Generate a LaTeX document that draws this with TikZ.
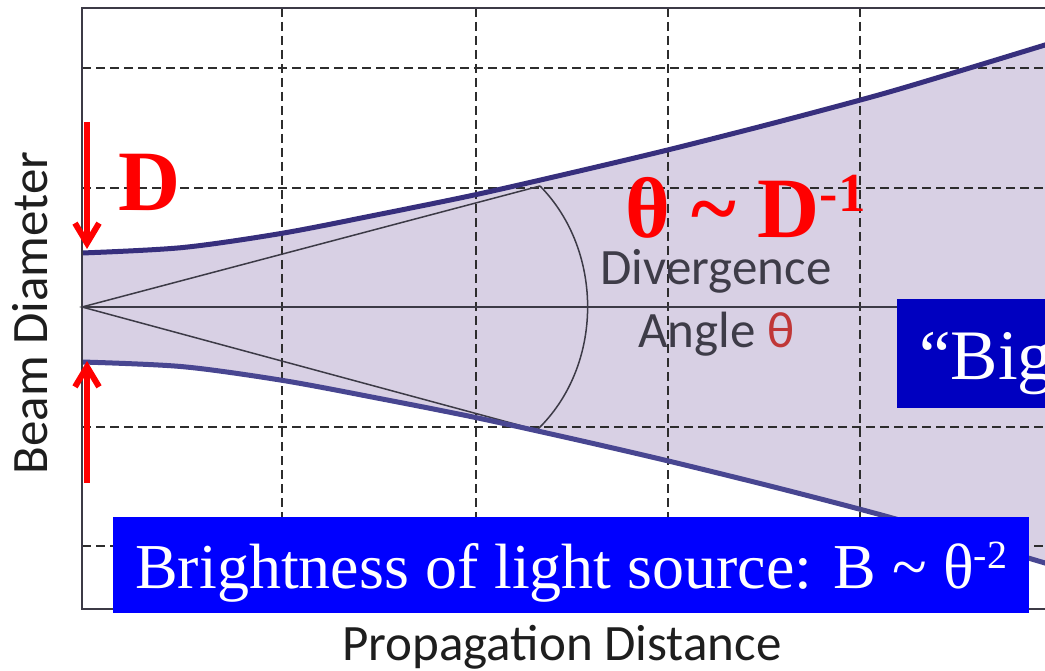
\documentclass[tikz,border=0pt]{standalone}
\usepackage{fontspec}
\setmainfont{Liberation Serif}
\newfontfamily\calfont{Carlito}
\usetikzlibrary{arrows.meta}
\definecolor{beamfill}{RGB}{216,208,228}
\definecolor{beamup}{RGB}{55,47,125}
\definecolor{beamlo}{RGB}{72,70,145}
\definecolor{gridcol}{RGB}{45,45,45}
\definecolor{thincol}{RGB}{60,58,70}
\definecolor{labgray}{RGB}{30,30,30}
\definecolor{divgray}{RGB}{62,60,72}
\definecolor{thetared}{RGB}{192,55,55}
\definecolor{pureblue}{RGB}{0,0,255}
\definecolor{darkblue}{RGB}{0,0,192}
\definecolor{pured}{RGB}{255,0,0}
\tikzset{
  gridline/.style={draw=gridcol, line width=1.4pt, dash pattern=on 9pt off 5pt},
  thinline/.style={draw=thincol, line width=1.5pt},
  frameline/.style={draw=thincol, line width=1.8pt},
  beamcurve/.style={line width=5pt},
  redarrow/.style={draw=pured, line width=6pt, -{Straight Barb[length=20pt,width=24pt]}},
  caltext/.style={font=\calfont\fontsize{51}{51}\selectfont, inner sep=0pt},
  redbig/.style={font=\bfseries\fontsize{86}{86}\selectfont, text=pured, inner sep=0pt},
}
\begin{document}
\begin{tikzpicture}[x=1pt,y=-1pt]
\useasboundingbox (0,0) rectangle (1045,671);
\clip (0,0) rectangle (1045,671);
\fill[white] (0,0) rectangle (1045,671);
% beam fill
\fill[beamfill] plot[smooth] coordinates {(82,253) (182,247.6) (282,233.3) (379,214.4) (476,194.6) (572,172.7) (668,149.9) (774,123) (880,94.6) (962,70.3) (1045,45) (1065,38.9)}
  -- plot[smooth] coordinates {(1065,568.9) (1045,563) (962,538.3) (880,514.6) (774,487) (668,460.9) (572,438.7) (476,417.6) (379,398.4) (282,380.3) (182,366.6) (82,362)} -- cycle;
% grid
\foreach \gx in {282,476,668,860} \draw[gridline] (\gx,8) -- (\gx,609);
\foreach \gy in {68,188,427,546} \draw[gridline] (82,\gy) -- (1050,\gy);
% axis through beam centre
\coordinate (O) at (82,307);
\coordinate (CE) at (1050,307);
\draw[thinline] (O) -- (CE);
% divergence lines and arc
\coordinate (AU) at (540,186);
\coordinate (AL) at (537,430);
\draw[thinline] (AU) -- (O) -- (AL);
\draw[thinline] (AU) .. controls (604,251) and (604,366) .. (AL);
% beam envelope
\draw[beamcurve, draw=beamup] plot[smooth] coordinates {(82,253) (182,247.6) (282,233.3) (379,214.4) (476,194.6) (572,172.7) (668,149.9) (774,123) (880,94.6) (962,70.3) (1045,45) (1065,38.9)};
\draw[beamcurve, draw=beamlo] plot[smooth] coordinates {(82,362) (182,366.6) (282,380.3) (379,398.4) (476,417.6) (572,438.7) (668,460.9) (774,487) (880,514.6) (962,538.3) (1045,563) (1065,568.9)};
% frame
\draw[frameline] (1050,8) -- (82,8) -- (82,609) -- (1050,609);
% axis labels
\node[caltext, text=labgray, rotate=90] (ylab) at (30,313) {Beam Diameter};
\node[caltext, text=labgray, anchor=base] (xlab) at (562,660) {Propagation Distance};
\node[caltext, text=divgray, anchor=base] (div) at (716,285) {Divergence};
\node[caltext, text=divgray, anchor=base west] (ang) at (638,347) {Angle \textcolor{thetared}{θ}};
% red annotations
\node[redbig, anchor=base west] (Dlab) at (118,211) {D};
\node[redbig, anchor=base west] (rel) at (625,238) {θ \textasciitilde{} D\raisebox{26pt}{\fontsize{55}{55}\selectfont -1}};
\coordinate (T1) at (87,122);
\coordinate (T2) at (87,249);
\coordinate (B1) at (87,483);
\coordinate (B2) at (87,361);
\draw[redarrow] (T1) -- (T2);
\draw[redarrow] (B1) -- (B2);
% blue boxes
\node[anchor=base west, fill=pureblue, text=white, font=\fontsize{64}{64}\selectfont,
      minimum width=916pt, text height=71pt, text depth=25pt, inner ysep=0pt, inner xsep=0pt] (bright) at (113,588)
      {Brightness of light source: B \textasciitilde{} θ\raisebox{20pt}{\fontsize{40}{40}\selectfont -2}};
\node[anchor=base west, fill=darkblue, text=white, font=\fontsize{71}{71}\selectfont,
      text width=220pt, align=left, text height=80pt, text depth=29pt, inner ysep=0pt, inner xsep=22pt] (big) at (897,379)
      {“Big};
\end{tikzpicture}
\end{document}
